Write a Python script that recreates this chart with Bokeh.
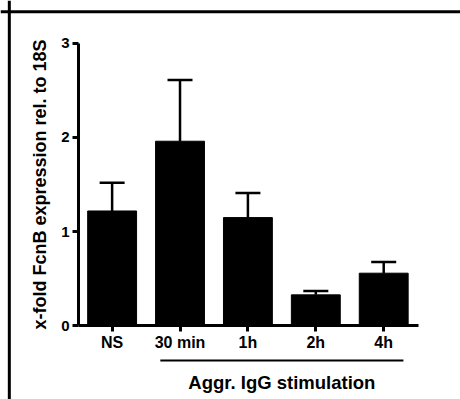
from bokeh.plotting import figure
from bokeh.models import (Range1d, FixedTicker, Whisker, TeeHead, ColumnDataSource, Span)
from bokeh.core.properties import value
from bokeh.embed import file_html
from bokeh.resources import INLINE

# ---- data ----
categories = ["NS", "30 min", "1h", "2h", "4h"]
means = [1.22, 1.96, 1.15, 0.33, 0.56]
sem = [0.30, 0.65, 0.26, 0.04, 0.12]
group_categories = ["30 min", "1h", "2h", "4h"]
group_label = "Aggr. IgG stimulation"
y_ticks = [0, 1, 2, 3]
y_label = "x-fold FcnB expression rel. to 18S"

FONT = "Liberation Sans"

xs = list(range(len(categories)))
upper = [m + s for m, s in zip(means, sem)]
src = ColumnDataSource(dict(x=xs, top=means, upper=upper))

p = figure(width=460, height=399, output_backend="svg", toolbar_location=None,
           x_range=Range1d(-1.644, 5.131), y_range=Range1d(-0.780, 3.453),
           min_border=0, title=None)
p.outline_line_color = None
p.xgrid.visible = False
p.ygrid.visible = False
p.background_fill_color = "white"
p.border_fill_color = "white"

p.vbar(x="x", top="top", bottom=0, width=0.72, source=src,
       fill_color="black", line_color="black")

w = Whisker(source=src, base="x", upper="upper", lower="top", dimension="height",
            line_width=2.5, line_color="black", lower_head=None,
            upper_head=TeeHead(size=25, line_width=2.5, line_color="black"))
p.add_layout(w)

# axes
for ax in p.yaxis:
    ax.fixed_location = -0.495
    ax.bounds = (0, 3)
    ax.ticker = FixedTicker(ticks=y_ticks)
    ax.minor_tick_line_color = None
    ax.axis_line_width = 3
    ax.major_tick_line_width = 3
    ax.major_tick_out = 6
    ax.major_tick_in = 0
    ax.major_label_text_font = FONT
    ax.major_label_text_font_style = "bold"
    ax.major_label_text_font_size = "15px"
    ax.major_label_text_color = "black"
    ax.major_label_standoff = 3
    ax.axis_label = y_label
    ax.axis_label_text_font = FONT
    ax.axis_label_text_font_style = "bold"
    ax.axis_label_text_font_size = "18px"
    ax.axis_label_text_color = "black"
    ax.axis_label_standoff = 8

for ax in p.xaxis:
    ax.fixed_location = 0
    ax.bounds = (-0.495, 4.512)
    ax.ticker = FixedTicker(ticks=xs)
    ax.major_label_overrides = {i: c for i, c in zip(xs, categories)}
    ax.minor_tick_line_color = None
    ax.axis_line_width = 3
    ax.major_tick_line_width = 3
    ax.major_tick_out = 6
    ax.major_tick_in = 0
    ax.major_label_text_font = FONT
    ax.major_label_text_font_style = "bold"
    ax.major_label_text_font_size = "16px"
    ax.major_label_text_color = "black"
    ax.major_label_standoff = 2

# group line and label
g0 = categories.index(group_categories[0])
g1 = categories.index(group_categories[-1])
p.segment(x0=[g0 - 0.29], y0=[-0.366], x1=[g1 + 0.29], y1=[-0.366],
          line_color="black", line_width=2)
p.text(x=[(g0 + g1) / 2], y=[-0.596], text=[group_label],
       text_font=value(FONT), text_font_style="bold", text_font_size="18.5px",
       text_align="center", text_baseline="alphabetic", text_color="black")

# border (left and top edges)
p.add_layout(Span(location=-1.514, dimension="height", line_color="black", line_width=3))
p.add_layout(Span(location=3.334, dimension="width", line_color="black", line_width=3))

open("out.html", "w").write(file_html(p, INLINE))
